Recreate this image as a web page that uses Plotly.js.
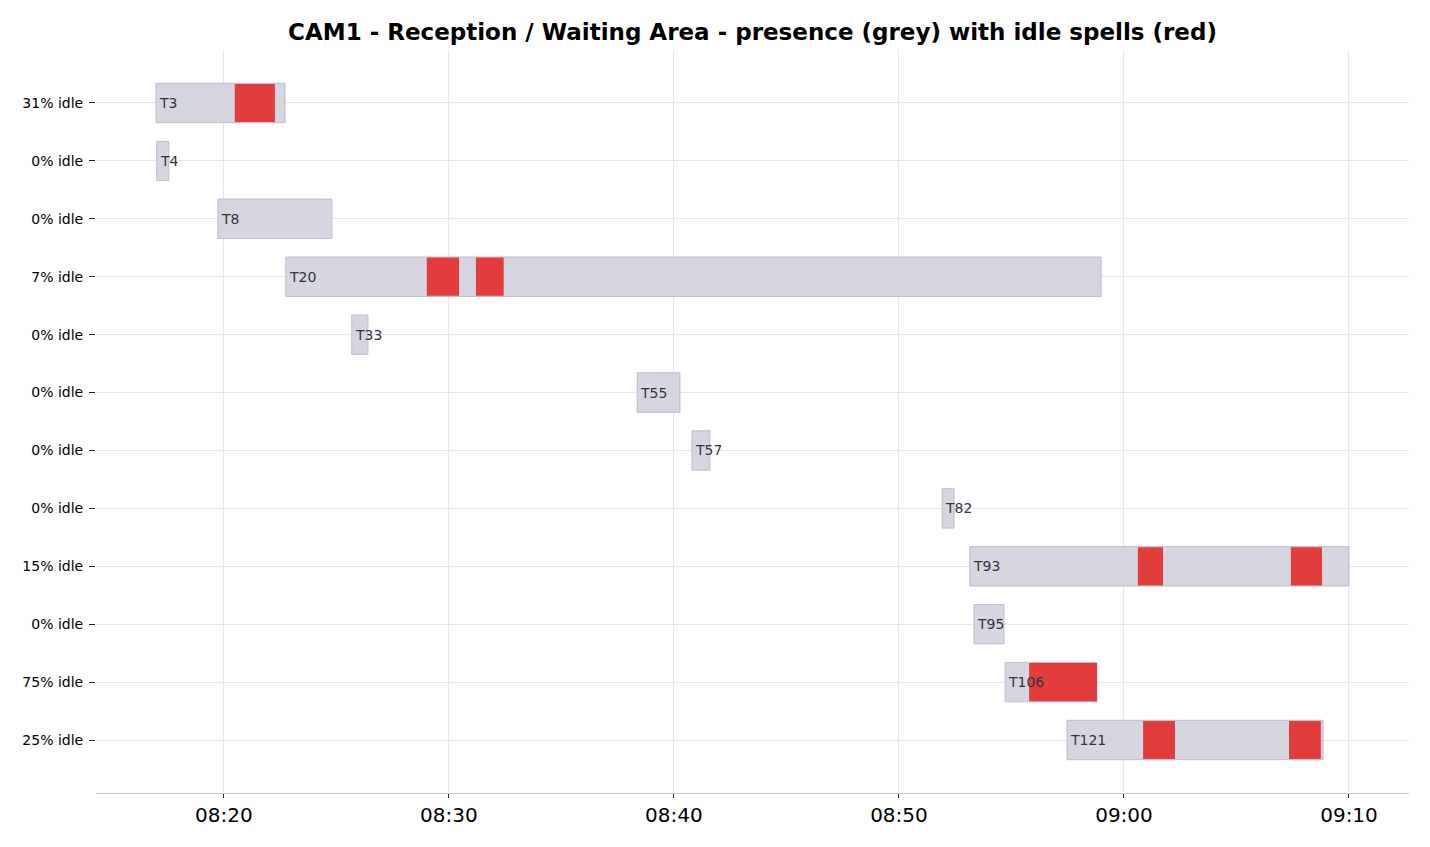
<!DOCTYPE html>
<html><head><meta charset="utf-8">
<script src="https://cdn.plot.ly/plotly-3.0.1.min.js"></script>
<style>body{margin:0;background:#fff}#c{width:1430px;height:847px}</style>
</head><body><div id="c"></div>
<script>
const tracks = ["T3","T4","T8","T20","T33","T55","T57","T82","T93","T95","T106","T121"];
const idleLabels = ["31% idle","0% idle","0% idle","7% idle","0% idle","0% idle","0% idle","0% idle","15% idle","0% idle","75% idle","25% idle"];
const starts = ["08:16:59","08:17:01","08:19:44","08:22:45","08:25:41","08:38:22","08:40:48","08:51:55","08:53:09","08:53:20","08:54:43","08:57:28"];
const ends   = ["08:22:43","08:17:33","08:24:48","08:58:59","08:26:24","08:40:16","08:41:36","08:52:27","09:10:00","08:54:40","08:58:48","09:08:51"];
const idleRow   = [0, 3, 3, 8, 8, 10, 11, 11];
const idleStart = ["08:20:29","08:29:01","08:31:12","09:00:37","09:07:25","08:55:47","09:00:51","09:07:20"];
const idleEnd   = ["08:22:16","08:30:27","08:32:26","09:01:44","09:08:48","08:58:48","09:02:16","09:08:45"];

const day = "2024-01-01 ";
const ms = t => { const [h,m,s] = t.split(":").map(Number); return ((h*60+m)*60+s)*1000; };
const rows = tracks.map((_, i) => i);

const presence = {
  type: "bar", orientation: "h",
  y: rows,
  base: starts.map(s => day + s),
  x: starts.map((s, i) => ms(ends[i]) - ms(s)),
  width: 0.68,
  marker: {color: "#d6d6e1", line: {color: "#bdbdcc", width: 1}},
  hoverinfo: "skip", showlegend: false
};
const idle = {
  type: "bar", orientation: "h",
  y: idleRow,
  base: idleStart.map(s => day + s),
  x: idleStart.map((s, i) => ms(idleEnd[i]) - ms(s)),
  width: 0.66,
  marker: {color: "#e33c3c", line: {width: 0}},
  hoverinfo: "skip", showlegend: false
};
const annotations = tracks.map((t, i) => ({
  x: day + starts[i], y: i, xref: "x", yref: "y",
  text: t, showarrow: false, xanchor: "left", yanchor: "middle", xshift: 1,
  font: {family: "DejaVu Sans", size: 14, color: "#333340"}
}));

const layout = {
  width: 1430, height: 847,
  margin: {l: 96, r: 21, t: 50, b: 54},
  paper_bgcolor: "#fff", plot_bgcolor: "#fff",
  barmode: "overlay",
  font: {family: "DejaVu Sans", color: "#000"},
  annotations: annotations,
  title: {text: "<b>CAM1 - Reception / Waiting Area - presence (grey) with idle spells (red)</b>",
          font: {family: "DejaVu Sans", size: 23, color: "#000"},
          xref: "paper", x: 0.5, xanchor: "center", y: 0.962, yanchor: "middle"},
  xaxis: {
    type: "date",
    range: [day + "08:14:19", day + "09:12:40"],
    tickformat: "%H:%M", dtick: 600000, tick0: day + "08:00:00",
    showgrid: true, gridcolor: "#e6e6ef", gridwidth: 1,
    showline: true, linecolor: "#c8c8d0", linewidth: 1,
    ticks: "outside", ticklen: 4, tickcolor: "#222", tickwidth: 1,
    tickfont: {size: 20, color: "#000"},
    zeroline: false
  },
  yaxis: {
    range: [11.915, -0.915],
    tickvals: rows, ticktext: idleLabels,
    showgrid: true, gridcolor: "#e6e6ef", gridwidth: 1,
    ticks: "outside", ticklen: 6, tickcolor: "#222", tickwidth: 1,
    ticklabelstandoff: 3,
    tickfont: {size: 14, color: "#000"},
    showline: false, zeroline: false
  }
};
Plotly.newPlot("c", [presence, idle], layout, {displayModeBar: false, staticPlot: true});
</script></body></html>
